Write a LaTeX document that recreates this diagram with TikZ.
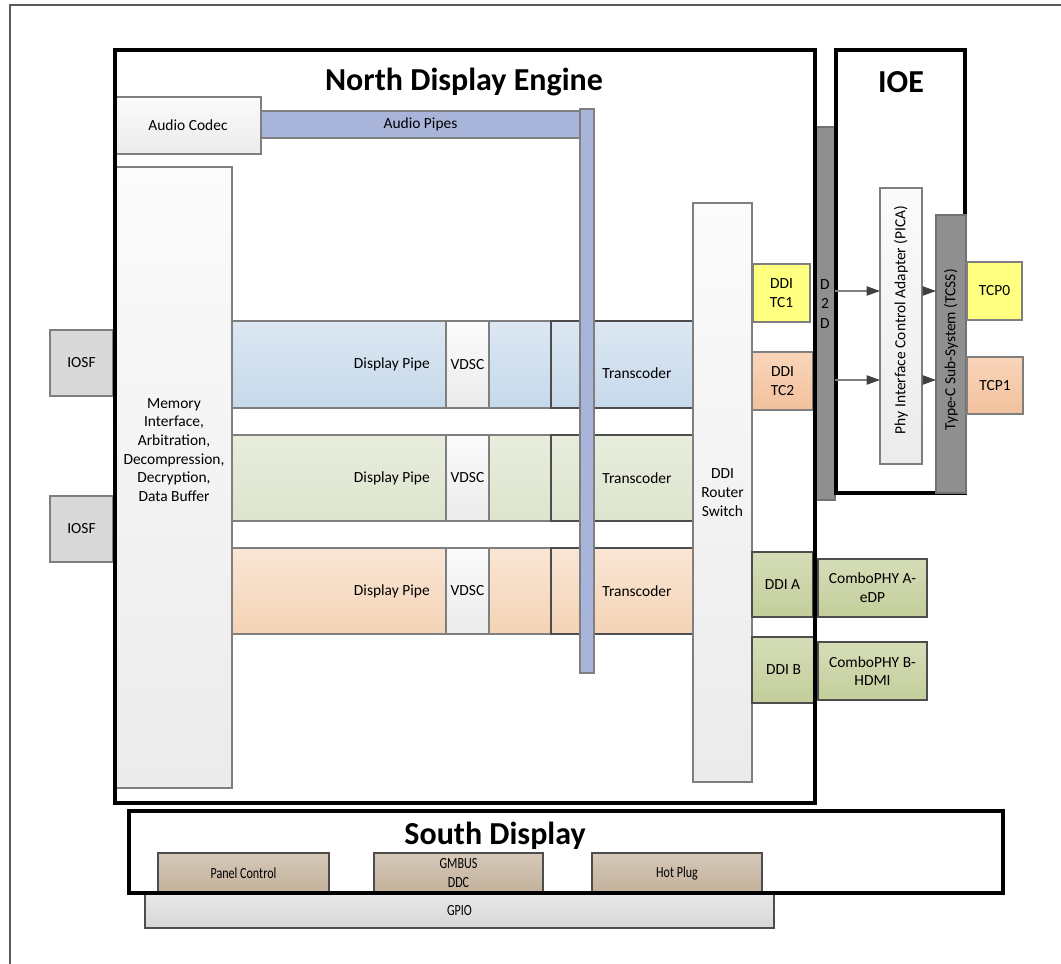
\documentclass[tikz,border=0pt]{standalone}
\usepackage{fontspec}
\setmainfont{Carlito}
\newfontfamily\narrowfont[FakeStretch=0.78]{Carlito}
\usetikzlibrary{arrows.meta,calc}

\definecolor{linegray}{HTML}{7F7F7F}
\definecolor{darkline}{HTML}{4D4D4D}
\definecolor{framegray}{HTML}{595959}
\definecolor{litetop}{HTML}{FBFBFB}
\definecolor{litebot}{HTML}{EBEBEB}
\definecolor{iosfgray}{HTML}{D9D9D9}
\definecolor{audioblue}{HTML}{A9B4DA}
\definecolor{bluetop}{HTML}{DCE7F2}
\definecolor{bluebot}{HTML}{C6D9EB}
\definecolor{greentop}{HTML}{E8EDDD}
\definecolor{greenbot}{HTML}{DDE4CD}
\definecolor{orangetop}{HTML}{FAE6D5}
\definecolor{orangebot}{HTML}{F4D3B5}
\definecolor{ddiyellow}{HTML}{FFFF80}
\definecolor{peachtop}{HTML}{F9D5BA}
\definecolor{peachbot}{HTML}{F2C19D}
\definecolor{olivetop}{HTML}{D5DDB7}
\definecolor{olivebot}{HTML}{C3CE9B}
\definecolor{bargray}{HTML}{8F8F8F}
\definecolor{tantop}{HTML}{D6C9B9}
\definecolor{tanbot}{HTML}{C2B09A}
\definecolor{gpiotop}{HTML}{E9E9E9}
\definecolor{gpiobot}{HTML}{D6D6D6}
\definecolor{arrowgray}{HTML}{404040}

\tikzset{
  txt/.style={font=\fontsize{11.6}{14}\selectfont, align=center, inner sep=0pt},
  blk/.style={txt, draw=linegray, line width=0.8pt, outer sep=0pt},
  liteblk/.style={blk, top color=litetop, bottom color=litebot},
  iosfblk/.style={blk, fill=iosfgray},
  audioblk/.style={blk, fill=audioblue},
  pipeblue/.style={blk, top color=bluetop, bottom color=bluebot},
  pipegreen/.style={blk, top color=greentop, bottom color=greenbot},
  pipeorange/.style={blk, top color=orangetop, bottom color=orangebot},
  xcodeblue/.style={pipeblue, draw=darkline},
  xcodegreen/.style={pipegreen, draw=darkline},
  xcodeorange/.style={pipeorange, draw=darkline},
  yellowblk/.style={blk, fill=ddiyellow},
  peachblk/.style={blk, top color=peachtop, bottom color=peachbot},
  oliveblk/.style={blk, top color=olivetop, bottom color=olivebot, draw=darkline},
  barblk/.style={blk, fill=bargray, draw=darkline!80},
  tanblk/.style={blk, top color=tantop, bottom color=tanbot, draw=darkline,
                 font=\narrowfont\fontsize{11.6}{14.5}\selectfont},
  gpioblk/.style={blk, top color=gpiotop, bottom color=gpiobot, draw=darkline,
                  font=\narrowfont\fontsize{11.6}{14}\selectfont},
  region/.style={draw=black, line width=2.3pt, inner sep=0pt, outer sep=0pt},
  title/.style={font=\fontsize{24}{28}\selectfont\bfseries, inner sep=0pt},
  flow/.style={draw=linegray, line width=0.8pt,
               -{Triangle[length=10pt,width=7pt,color=arrowgray]}},
}

% block from its corner coordinates (in px): style, name, x1, y1, x2, y2, text
\newcommand{\mkblock}[7]{%
  \node[#1, minimum width={(#5-#3)*0.75pt}, minimum height={(#6-#4)*0.75pt}]
    (#2) at ({(#3+#5)/2},{(#4+#6)/2}) {#7};}

% one display pipe row: colour, row tag, top, bottom, transcoder label y
\newcommand{\piperow}[5]{%
  \mkblock{pipe#1}{pipe#2}{232}{#3}{551}{#4}{}
  \mkblock{xcode#1}{xcoder#2}{551}{#3}{693}{#4}{}
  \mkblock{liteblk}{vdsc#2}{446}{#3}{489}{#4}{VDSC}
  \node[txt, anchor=east] (pipelbl#2) at (430,{(#3+#4)/2}) {Display Pipe};
  \node[txt] (xcodelbl#2) at (637,#5) {Transcoder};}

\begin{document}
\begin{tikzpicture}[x=0.75pt, y=-0.75pt]
\useasboundingbox (0,0) rectangle (1061,964);

% page frame
\draw[framegray, line width=1.2pt] (1061,5) -- (10,5) -- (10,964);

% ---------- North Display Engine contents ----------
\mkblock{liteblk}{codec}{115}{97}{261}{154}{Audio Codec}
\mkblock{audioblk}{apipes}{261}{111}{580}{138}{Audio Pipes}
\mkblock{liteblk}{mem}{116}{167}{232}{788}{}
\node[txt] (memlbl) at (174,450)
  {Memory\\Interface,\\Arbitration,\\Decompression,\\Decryption,\\Data Buffer};

\mkblock{iosfblk}{iosfa}{50}{330}{113}{396}{IOSF}
\mkblock{iosfblk}{iosfb}{50}{496}{113}{562}{IOSF}

\piperow{blue}{A}{321}{408}{373}
\piperow{green}{B}{435}{521}{478}
\piperow{orange}{C}{548}{634}{591}

\mkblock{audioblk}{abar}{580}{109}{594}{673}{}

\mkblock{liteblk}{router}{693}{203}{752}{782}{DDI\\Router\\Switch}
\mkblock{yellowblk}{dditc1}{753}{264}{810}{322}{DDI\\TC1}
\mkblock{peachblk}{dditc2}{752}{352}{813}{410}{DDI\\TC2}
\mkblock{oliveblk}{ddia}{752}{552}{813}{617}{DDI A}
\mkblock{oliveblk}{ddib}{752}{637}{815}{703}{DDI B}
\mkblock{oliveblk}{phya}{818}{559}{927}{617}{ComboPHY A-\\eDP}
\mkblock{oliveblk}{phyb}{818}{642}{927}{700}{ComboPHY B-\\HDMI}

% die-to-die link
\mkblock{barblk}{d2d}{815}{127}{835}{500}{}
\node[txt, font=\fontsize{11.6}{14.3}\selectfont] (d2dlbl) at (825,304) {D\\2\\D};

% ---------- region outlines ----------
\draw[region] (115,50) rectangle (815,803);
\node[title] (ndetitle) at (464,82) {North Display Engine};
\draw[region] (836,50) rectangle (965,493);
\node[title] (ioetitle) at (901,82) {IOE};

% ---------- IOE contents ----------
\mkblock{liteblk}{pica}{880}{188}{922}{464}{}
\node[txt, rotate=90] (picalbl) at (901,320) {Phy Interface Control Adapter (PICA)};
\mkblock{barblk}{tcss}{936}{215}{966}{493}{}
\node[txt, rotate=90] (tcsslbl) at (951,350) {Type-C Sub-System (TCSS)};
\mkblock{yellowblk}{tcp0}{967}{262}{1022}{320}{TCP0}
\mkblock{peachblk}{tcp1}{967}{357}{1023}{414}{TCP1}

\coordinate (laneA) at (0,291);
\coordinate (laneB) at (0,380);
\draw[flow] (d2d.east |- laneA) -- (pica.west |- laneA);
\draw[flow] (d2d.east |- laneB) -- (pica.west |- laneB);
\draw[flow] (pica.east |- laneA) -- (tcss.west |- laneA);
\draw[flow] (pica.east |- laneB) -- (tcss.west |- laneB);

% ---------- South Display ----------
\mkblock{gpioblk}{gpio}{145}{893}{774}{928}{GPIO}
\mkblock{tanblk}{panel}{158}{853}{329}{893}{Panel Control}
\mkblock{tanblk}{gmbus}{374}{853}{543}{893}{GMBUS\\DDC}
\mkblock{tanblk}{hotplug}{592}{853}{762}{893}{Hot Plug}
\draw[region] (129,811) rectangle (1003,893);
\node[title] (southtitle) at (495,836) {South Display};

\end{tikzpicture}
\end{document}
